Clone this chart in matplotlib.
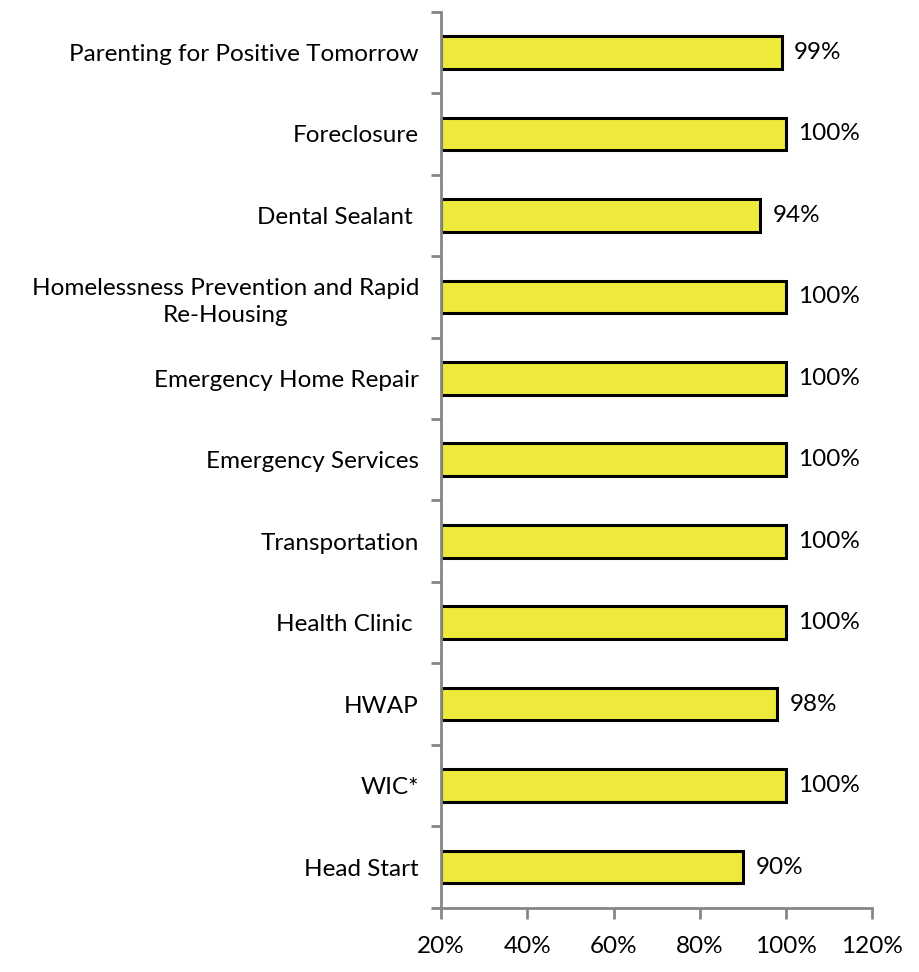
import numpy as np
import matplotlib.pyplot as plt
from matplotlib.ticker import FixedLocator, PercentFormatter

plt.rcParams['font.family'] = ['Lato', 'DejaVu Sans']

# programs listed top to bottom
programs = ["Parenting for Positive Tomorrow", "Foreclosure", "Dental Sealant ",
            "Homelessness Prevention and Rapid\nRe-Housing", "Emergency Home Repair",
            "Emergency Services", "Transportation", "Health Clinic ", "HWAP", "WIC*",
            "Head Start"]
percent = [99, 100, 94, 100, 100, 100, 100, 100, 98, 100, 90]
x_ticks = [20, 40, 60, 80, 100, 120]

fs = 17.5

fig = plt.figure(figsize=(9.19, 9.72), dpi=100)
ax = fig.add_axes([0.480, 0.066, 0.469, 0.922])

n = len(programs)
ypos = np.arange(n)[::-1]
ax.barh(ypos, [p - 20 for p in percent], left=20, height=0.4,
        color='#EEEA3C', edgecolor='black', linewidth=2.2)

for y, p in zip(ypos, percent):
    ax.annotate(f"{p}%", (p, y), xytext=(9, 0), textcoords='offset points',
                va='center', ha='left', fontsize=fs)

ax.set_xlim(20, 120)
ax.set_ylim(-0.5, n - 0.5)

ax.set_xticks(x_ticks)
ax.xaxis.set_major_formatter(PercentFormatter(decimals=0))
ax.tick_params(axis='x', length=8, width=2, color='#868686', pad=12, labelsize=fs)

ax.set_yticks(ypos)
ax.set_yticklabels(programs, multialignment='center', linespacing=1.35)
ax.tick_params(axis='y', which='major', length=0, pad=16, labelsize=fs)
ax.yaxis.set_minor_locator(FixedLocator(np.arange(n + 1) - 0.5))
ax.tick_params(axis='y', which='minor', length=7, width=2, color='#868686')

for side in ['top', 'right']:
    ax.spines[side].set_visible(False)
for side in ['left', 'bottom']:
    ax.spines[side].set_color('#868686')
    ax.spines[side].set_linewidth(2)

fig.savefig("out.png", dpi=100)
